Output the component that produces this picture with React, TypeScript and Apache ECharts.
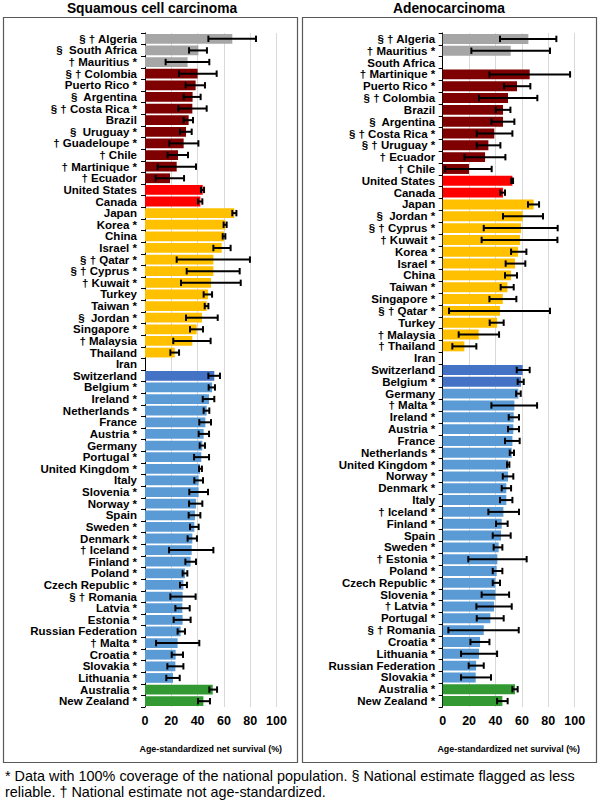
import React, { useEffect, useRef } from "react";
import * as echarts from "echarts";

// ---------- Squamous cell carcinoma ----------
const leftCategories = [
  "§ † Algeria", "§  South Africa", "† Mauritius *", "§ † Colombia", "Puerto Rico *", "§  Argentina",
  "§ † Costa Rica *", "Brazil", "§  Uruguay *", "† Guadeloupe *", "† Chile", "† Martinique *", "† Ecuador",
  "United States", "Canada", "Japan", "Korea *", "China", "Israel *", "§ † Qatar *", "§ † Cyprus *",
  "† Kuwait *", "Turkey", "Taiwan *", "§  Jordan *", "Singapore *", "† Malaysia", "Thailand", "Iran",
  "Switzerland", "Belgium *", "Ireland *", "Netherlands *", "France", "Austria *", "Germany", "Portugal *",
  "United Kingdom *", "Italy", "Slovenia *", "Norway *", "Spain", "Sweden *", "Denmark *", "† Iceland *",
  "Finland *", "Poland *", "Czech Republic *", "§ † Romania", "Latvia *", "Estonia *", "Russian Federation",
  "† Malta *", "Croatia *", "Slovakia *", "Lithuania *", "Australia *", "New Zealand *",
];
const leftValues = [
  66.4, 40.6, 32.4, 40.0, 38.5, 36.2, 36.0, 33.2, 31.2, 29.4, 25.1, 24.1, 19.0,
  43.9, 42.1, 67.9, 61.1, 60.1, 58.3, 52.0, 52.0, 50.2, 47.9, 46.9, 43.3, 39.3, 36.0, 22.6, null,
  52.7, 51.0, 48.7, 46.9, 45.9, 44.6, 43.6, 42.8, 41.8, 40.8, 40.8, 38.8, 38.0, 37.5, 36.0, 35.5,
  34.7, 30.4, 29.2, 28.6, 28.4, 28.6, 27.1, 24.8, 23.3, 23.1, 21.3, 51.5, 44.4,
];
const leftLow = [
  48.2, 33.5, 15.7, 25.9, 30.9, 29.4, 25.3, 29.4, 26.6, 18.5, 17.2, 9.6, 8.1,
  42.6, 40.3, 66.4, 59.8, 59.1, 52.0, 24.1, 31.7, 27.4, 44.6, 45.4, 31.2, 34.2, 21.5, 19.3, null,
  48.2, 48.4, 43.9, 44.6, 41.3, 40.8, 41.6, 37.3, 41.1, 37.5, 33.7, 33.5, 33.2, 34.2, 32.4, 18.3,
  30.7, 28.6, 26.6, 19.3, 23.1, 21.8, 24.8, 8.4, 20.3, 17.0, 16.2, 48.9, 40.3,
];
const leftHigh = [
  84.4, 47.1, 48.9, 54.5, 45.6, 42.3, 46.9, 36.5, 35.5, 40.6, 32.7, 38.8, 29.7,
  44.9, 43.6, 69.5, 62.1, 61.1, 65.1, 79.8, 72.0, 72.8, 51.0, 48.2, 55.3, 44.1, 49.9, 25.9, null,
  57.0, 53.2, 52.7, 48.9, 50.2, 48.7, 45.6, 48.7, 43.3, 44.1, 47.9, 43.6, 42.1, 40.8, 39.5, 52.0,
  38.8, 32.2, 31.9, 38.5, 34.0, 34.7, 30.4, 41.3, 28.9, 29.2, 26.4, 54.8, 49.4,
];
const leftRegion = [
  "Africa", "Africa", "Africa",
  "Latin America", "Latin America", "Latin America", "Latin America", "Latin America", "Latin America",
  "Latin America", "Latin America", "Latin America", "Latin America",
  "North America", "North America",
  "Asia", "Asia", "Asia", "Asia", "Asia", "Asia", "Asia", "Asia", "Asia", "Asia", "Asia", "Asia", "Asia", "Asia",
  "Europe top", "Europe", "Europe", "Europe", "Europe", "Europe", "Europe", "Europe", "Europe", "Europe",
  "Europe", "Europe", "Europe", "Europe", "Europe", "Europe", "Europe", "Europe", "Europe", "Europe",
  "Europe", "Europe", "Europe", "Europe", "Europe", "Europe", "Europe",
  "Oceania", "Oceania",
];

// ---------- Adenocarcinoma ----------
const rightCategories = [
  "§ † Algeria", "† Mauritius *", "South Africa", "† Martinique *", "Puerto Rico *", "§ † Colombia",
  "Brazil", "§  Argentina", "§ † Costa Rica *", "§ † Uruguay *", "† Ecuador", "† Chile",
  "United States", "Canada", "Japan", "§  Jordan *", "§ † Cyprus *", "† Kuwait *", "Korea *", "Israel *",
  "China", "Taiwan *", "Singapore *", "§ † Qatar *", "Turkey", "† Malaysia", "† Thailand", "Iran",
  "Switzerland", "Belgium *", "Germany", "† Malta *", "Ireland *", "Austria *", "France", "Netherlands *",
  "United Kingdom *", "Norway *", "Denmark *", "Italy", "† Iceland *", "Finland *", "Spain", "Sweden *",
  "† Estonia *", "Poland *", "Czech Republic *", "Slovenia *", "† Latvia *", "Portugal *", "§ † Romania",
  "Croatia *", "Lithuania *", "Russian Federation", "Slovakia *", "Australia *", "New Zealand *",
];
const rightValues = [
  64.9, 51.5, null, 65.9, 56.3, 49.5, 45.7, 45.7, 39.1, 34.6, 32.1, 19.9,
  52.8, 45.7, 68.9, 60.6, 59.3, 58.6, 57.1, 54.8, 51.8, 49.0, 45.5, 43.4, 41.2, 27.3, 16.4, null,
  60.6, 59.3, 57.3, 54.3, 53.8, 53.5, 52.8, 52.3, 49.7, 49.5, 48.2, 48.2, 46.0, 44.7, 44.2, 42.4,
  41.4, 40.9, 39.9, 39.9, 38.9, 36.1, 31.1, 28.3, 27.5, 25.3, 25.0, 54.8, 45.2,
];
const rightLow = [
  43.4, 21.7, null, 35.4, 46.5, 27.5, 40.2, 36.9, 25.8, 25.8, 16.4, 2.0,
  52.0, 43.7, 64.6, 45.7, 31.1, 29.5, 51.8, 47.7, 47.2, 43.9, 35.4, 4.8, 35.6, 12.1, 7.3, null,
  56.1, 56.8, 55.6, 36.9, 50.0, 49.5, 47.2, 50.8, 48.7, 45.5, 44.7, 43.4, 34.6, 40.4, 37.9, 38.6,
  19.4, 37.9, 37.9, 29.5, 25.5, 25.8, 4.3, 21.0, 13.9, 19.7, 13.9, 52.8, 41.2,
];
const rightHigh = [
  86.1, 81.3, null, 96.5, 66.4, 71.7, 51.3, 54.3, 52.8, 43.7, 47.5, 37.1,
  53.3, 47.2, 73.0, 76.0, 87.1, 86.9, 63.4, 62.6, 56.3, 53.8, 55.8, 81.3, 46.2, 42.7, 25.5, null,
  65.9, 61.4, 59.1, 71.5, 57.8, 57.8, 58.3, 54.0, 50.5, 53.5, 51.8, 52.8, 57.8, 49.2, 51.5, 45.2,
  63.6, 45.2, 43.4, 50.3, 52.3, 46.2, 57.6, 35.4, 41.2, 31.1, 36.6, 56.8, 49.2,
];
const rightRegion = [
  "Africa", "Africa", "Africa",
  "Latin America", "Latin America", "Latin America", "Latin America", "Latin America", "Latin America",
  "Latin America", "Latin America", "Latin America",
  "North America", "North America",
  "Asia", "Asia", "Asia", "Asia", "Asia", "Asia", "Asia", "Asia", "Asia", "Asia", "Asia", "Asia", "Asia", "Asia",
  "Europe top", "Europe top", "Europe", "Europe", "Europe", "Europe", "Europe", "Europe", "Europe", "Europe",
  "Europe", "Europe", "Europe", "Europe", "Europe", "Europe", "Europe", "Europe", "Europe", "Europe",
  "Europe", "Europe", "Europe", "Europe", "Europe", "Europe", "Europe",
  "Oceania", "Oceania",
];

const xTicks = [0, 20, 40, 60, 80, 100];
const panelTitles = ["Squamous cell carcinoma", "Adenocarcinoma"];
const axisTitle = "Age-standardized net survival (%)";
const footnoteLines = [
  "* Data with 100% coverage of the national population. § National estimate flagged as less",
  "reliable. † National estimate not age-standardized.",
];

const regionColor: Record<string, string> = {
  Africa: "#A6A6A6",
  "Latin America": "#7F0000",
  "North America": "#FF0000",
  Asia: "#FFC000",
  "Europe top": "#4472C4",
  Europe: "#5B9BD5",
  Oceania: "#339933",
};

const FONT = "'Liberation Sans', Arial, sans-serif";

function buildPanel(
  idx: number,
  cats: string[],
  vals: (number | null)[],
  lows: (number | null)[],
  highs: (number | null)[],
  regions: string[]
) {
  const barData = vals.map((v, i) => ({
    value: v == null ? "-" : v,
    itemStyle: { color: regionColor[regions[i]] },
  }));
  const errData: number[][] = [];
  lows.forEach((l, i) => {
    const h = highs[i];
    if (l != null && h != null) errData.push([i, l, h]);
  });
  return [
    {
      type: "bar",
      xAxisIndex: idx,
      yAxisIndex: idx,
      data: barData,
      barCategoryGap: "16%",
      z: 2,
    },
    {
      type: "custom",
      xAxisIndex: idx,
      yAxisIndex: idx,
      data: errData,
      encode: { x: [1, 2], y: 0 },
      z: 5,
      renderItem: (params: any, api: any) => {
        const c = api.value(0);
        const p1 = api.coord([api.value(1), c]);
        const p2 = api.coord([api.value(2), c]);
        const h = 3.2;
        const style = { stroke: "#000", lineWidth: 2 };
        return {
          type: "group",
          children: [
            { type: "line", shape: { x1: p1[0], y1: p1[1], x2: p2[0], y2: p2[1] }, style },
            { type: "line", shape: { x1: p1[0], y1: p1[1] - h, x2: p1[0], y2: p1[1] + h }, style },
            { type: "line", shape: { x1: p2[0], y1: p2[1] - h, x2: p2[0], y2: p2[1] + h }, style },
          ],
        };
      },
    },
  ];
}

export default function App() {
  const ref = useRef<HTMLDivElement>(null);
  useEffect(() => {
    if (!ref.current) return;
    const chart = echarts.init(ref.current, undefined, { renderer: "svg" });

    const xAxisBase = (gridIndex: number) => ({
      type: "value",
      gridIndex,
      min: xTicks[0],
      max: xTicks[xTicks.length - 1],
      interval: xTicks[1] - xTicks[0],
      axisLine: { show: false },
      axisTick: { show: false },
      splitLine: { show: true, lineStyle: { color: "#D9D9D9", width: 1 } },
      axisLabel: {
        color: "#000",
        fontFamily: FONT,
        fontWeight: "bold",
        fontSize: 12.5,
        margin: 7,
      },
      name: axisTitle,
      nameLocation: "middle",
      nameGap: 37,
      nameTextStyle: {
        color: "#000",
        fontFamily: FONT,
        fontWeight: "bold",
        fontSize: 8.9,
      },
    });
    const yAxisBase = (gridIndex: number, cats: string[], margin: number) => ({
      type: "category",
      gridIndex,
      data: cats,
      inverse: true,
      axisLine: { show: true, lineStyle: { color: "#000", width: 1 } },
      axisTick: { show: true, length: 4, alignWithLabel: false, lineStyle: { color: "#000" } },
      axisLabel: {
        color: "#000",
        fontFamily: FONT,
        fontWeight: "bold",
        fontSize: 11.5,
        lineHeight: 11,
        margin,
        interval: 0,
      },
      splitLine: { show: false },
    });

    const option: any = {
      animation: false,
      backgroundColor: "#fff",
      grid: [
        { left: 145, top: 33, width: 131.5, height: 674 },
        { left: 442.7, top: 33, width: 132, height: 674 },
      ],
      xAxis: [xAxisBase(0), xAxisBase(1)],
      yAxis: [yAxisBase(0, leftCategories, 8), yAxisBase(1, rightCategories, 7.5)],
      series: [
        ...buildPanel(0, leftCategories, leftValues, leftLow, leftHigh, leftRegion),
        ...buildPanel(1, rightCategories, rightValues, rightLow, rightHigh, rightRegion),
      ],
      graphic: [
        {
          type: "rect",
          shape: { x: 3.5, y: 17.5, width: 294, height: 745 },
          style: { fill: "none", stroke: "#595959", lineWidth: 1.2 },
          z: 0,
        },
        {
          type: "rect",
          shape: { x: 302.5, y: 17.5, width: 294, height: 745 },
          style: { fill: "none", stroke: "#595959", lineWidth: 1.2 },
          z: 0,
        },
        {
          type: "text",
          x: 152,
          y: 8,
          style: {
            text: panelTitles[0],
            fill: "#000",
            font: `bold 13.8px ${FONT}`,
            textAlign: "center",
            textVerticalAlign: "middle",
          },
        },
        {
          type: "text",
          x: 449,
          y: 8,
          style: {
            text: panelTitles[1],
            fill: "#000",
            font: `bold 13.8px ${FONT}`,
            textAlign: "center",
            textVerticalAlign: "middle",
          },
        },
        {
          type: "text",
          x: 5,
          y: 768,
          style: {
            text: footnoteLines.join("\n"),
            fill: "#000",
            font: `14.4px ${FONT}`,
            lineHeight: 16,
            textAlign: "left",
            textVerticalAlign: "top",
          },
        },
      ],
    };
    chart.setOption(option);
    return () => chart.dispose();
  }, []);
  return (
    <div
      ref={ref}
      style={{ position: "absolute", left: 0, top: 0, width: 600, height: 805, background: "#fff" }}
    />
  );
}
